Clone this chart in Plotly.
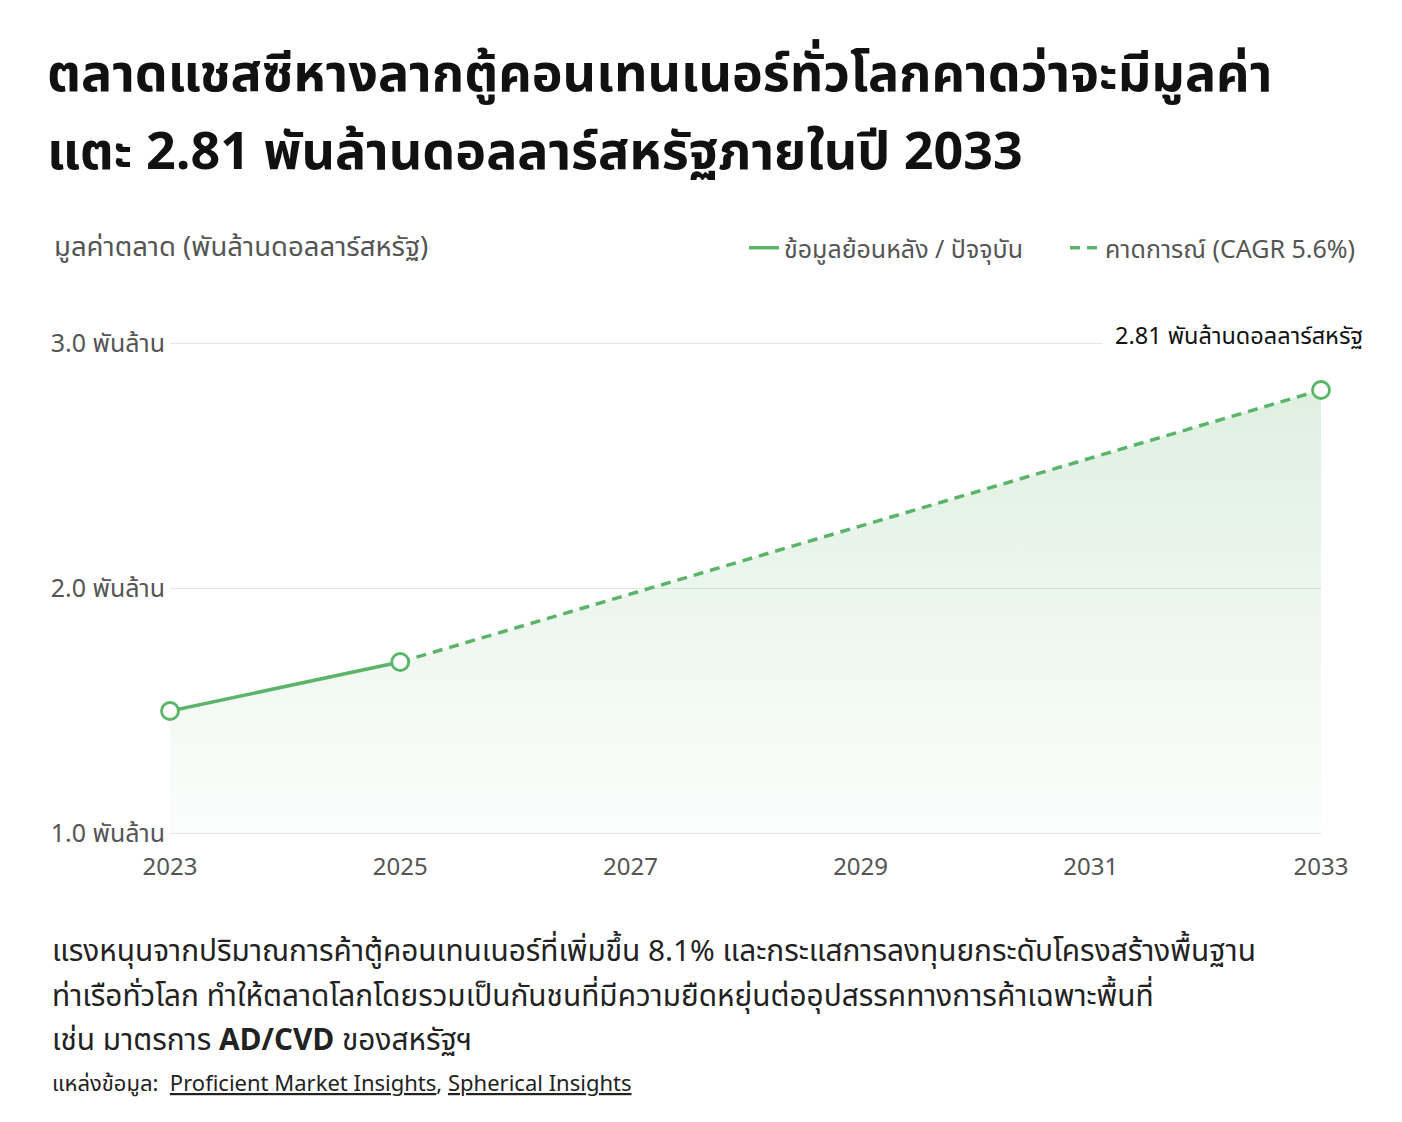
import plotly.graph_objects as go

# ---------------- data ----------------
years_hist = [2023, 2025]
values_hist = [1.50, 1.70]
years_fc = [2025, 2033]
values_fc = [1.70, 2.81]
years_all = [2023, 2025, 2033]
values_all = [1.50, 1.70, 2.81]
baseline = [1.0, 1.0, 1.0]
y_tickvals = [1.0, 2.0, 3.0]
y_ticktext = ["1.0 พันล้าน", "2.0 พันล้าน", "3.0 พันล้าน"]
x_tickvals = [2023, 2025, 2027, 2029, 2031, 2033]

title_lines = [
    "ตลาดแชสซีหางลากตู้คอนเทนเนอร์ทั่วโลกคาดว่าจะมีมูลค่า",
    "แตะ 2.81 พันล้านดอลลาร์สหรัฐภายในปี 2033",
]
y_title = "มูลค่าตลาด (พันล้านดอลลาร์สหรัฐ)"
legend_hist = "ข้อมูลย้อนหลัง / ปัจจุบัน"
legend_fc = "คาดการณ์ (CAGR 5.6%)"
end_label = "2.81 พันล้านดอลลาร์สหรัฐ"
note_lines = [
    "แรงหนุนจากปริมาณการค้าตู้คอนเทนเนอร์ที่เพิ่มขึ้น 8.1% และกระแสการลงทุนยกระดับโครงสร้างพื้นฐาน",
    "ท่าเรือทั่วโลก ทำให้ตลาดโลกโดยรวมเป็นกันชนที่มีความยืดหยุ่นต่ออุปสรรคทางการค้าเฉพาะพื้นที่",
    "เช่น มาตรการ <b>AD/CVD</b> ของสหรัฐฯ",
]
source_line = "แหล่งข้อมูล:  <u>Proficient Market Insights</u>, <u>Spherical Insights</u>"

# ---------------- layout geometry ----------------
OFF = 8                       # default body margin of the page
W, H = 1402 - 2 * OFF, 1122 - 2 * OFF
Y_LO, Y_HI = 0.99, 3.01
scale = (834 - 343) / 2.0     # screen px per unit
top_s = 343 - (Y_HI - 3.0) * scale
bot_s = 834 + (1.0 - Y_LO) * scale
L = 170 - OFF
T = int(round(top_s - OFF))
B = int(round(H - (bot_s - OFF)))
R = W - (1321 - OFF)
PW, PH = W - L - R, H - T - B


def px(xs):
    return (xs - OFF - L) / PW


def py(ys):
    return (H - B - (ys - OFF)) / PH


FONT = "Noto Sans Thai, Noto Sans, Roboto, sans-serif"
GREEN = "#5cb46a"

fig = go.Figure()

# baseline for area fill
fig.add_trace(go.Scatter(x=years_all, y=baseline, mode="lines",
                         line=dict(width=0), showlegend=False, hoverinfo="skip"))
# gradient area
fig.add_trace(go.Scatter(
    x=years_all, y=values_all, mode="lines", line=dict(width=0),
    fill="tonexty",
    fillgradient=dict(type="vertical",
                      colorscale=[[0, "rgba(92,180,106,0.02)"], [1, "rgba(92,180,106,0.20)"]]),
    showlegend=False, hoverinfo="skip"))

fig.add_trace(go.Scatter(
    x=years_fc, y=values_fc, mode="lines", name=legend_fc, legend="legend2",
    line=dict(color=GREEN, width=3.5, dash="10px,7px")))
fig.add_trace(go.Scatter(
    x=years_hist, y=values_hist, mode="lines", name=legend_hist, legend="legend",
    line=dict(color=GREEN, width=3.5)))
# markers
fig.add_trace(go.Scatter(
    x=[years_hist[0], years_hist[1], years_fc[-1]],
    y=[values_hist[0], values_hist[1], values_fc[-1]],
    mode="markers", showlegend=False, cliponaxis=False,
    marker=dict(size=17, color="white", line=dict(color=GREEN, width=2.8))))

annotations = []
for yp, t in zip([75, 153], title_lines):
    annotations.append(dict(x=px(45), y=py(yp), xref="paper", yref="paper", text=t,
                            showarrow=False, xanchor="left", yanchor="middle",
                            font=dict(size=52, color="#111", family=FONT, weight="bold")))
annotations.append(dict(x=px(52), y=py(248), xref="paper", yref="paper", text=y_title,
                        showarrow=False, xanchor="left", yanchor="middle",
                        font=dict(size=27.5, color="#555", family=FONT)))
annotations.append(dict(x=years_fc[-1], y=values_fc[-1], xref="x", yref="y", text=end_label,
                        showarrow=False, xanchor="right", yanchor="middle",
                        xshift=55, yshift=53, bgcolor="white", borderpad=12,
                        font=dict(size=23.5, color="#111", family=FONT)))
for yp, t in zip([951, 996, 1040], note_lines):
    annotations.append(dict(x=px(50), y=py(yp), xref="paper", yref="paper", text=t,
                            showarrow=False, xanchor="left", yanchor="middle",
                            font=dict(size=29.8, color="#222", family=FONT)))
annotations.append(dict(x=px(50), y=py(1084), xref="paper", yref="paper", text=source_line,
                        showarrow=False, xanchor="left", yanchor="middle",
                        font=dict(size=22, color="#222", family=FONT)))

legend_common = dict(orientation="h", xanchor="right", yanchor="middle",
                     font=dict(size=25, color="#555", family=FONT),
                     itemwidth=30, bgcolor="rgba(0,0,0,0)")

fig.update_layout(
    width=W, height=H,
    margin=dict(l=L, r=R, t=T, b=B),
    paper_bgcolor="white", plot_bgcolor="white",
    font=dict(family=FONT, color="#555"),
    showlegend=True,
    legend=dict(x=px(1029), y=py(248), **legend_common),
    legend2=dict(x=px(1361), y=py(248), **legend_common),
    annotations=annotations,
    hovermode=False,
)
fig.update_xaxes(range=[2023, 2033], tickvals=x_tickvals, showgrid=False, zeroline=False,
                 showline=False, ticks="", tickfont=dict(size=24, color="#555", family=FONT),
                 ticklabelstandoff=14)
fig.update_yaxes(range=[Y_LO, Y_HI], tickvals=y_tickvals, ticktext=y_ticktext,
                 showgrid=True, gridcolor="#e4e6e4", gridwidth=1, zeroline=False,
                 showline=False, ticks="", tickfont=dict(size=25, color="#555", family=FONT),
                 ticklabelstandoff=4)

fig.write_html("out.html")
